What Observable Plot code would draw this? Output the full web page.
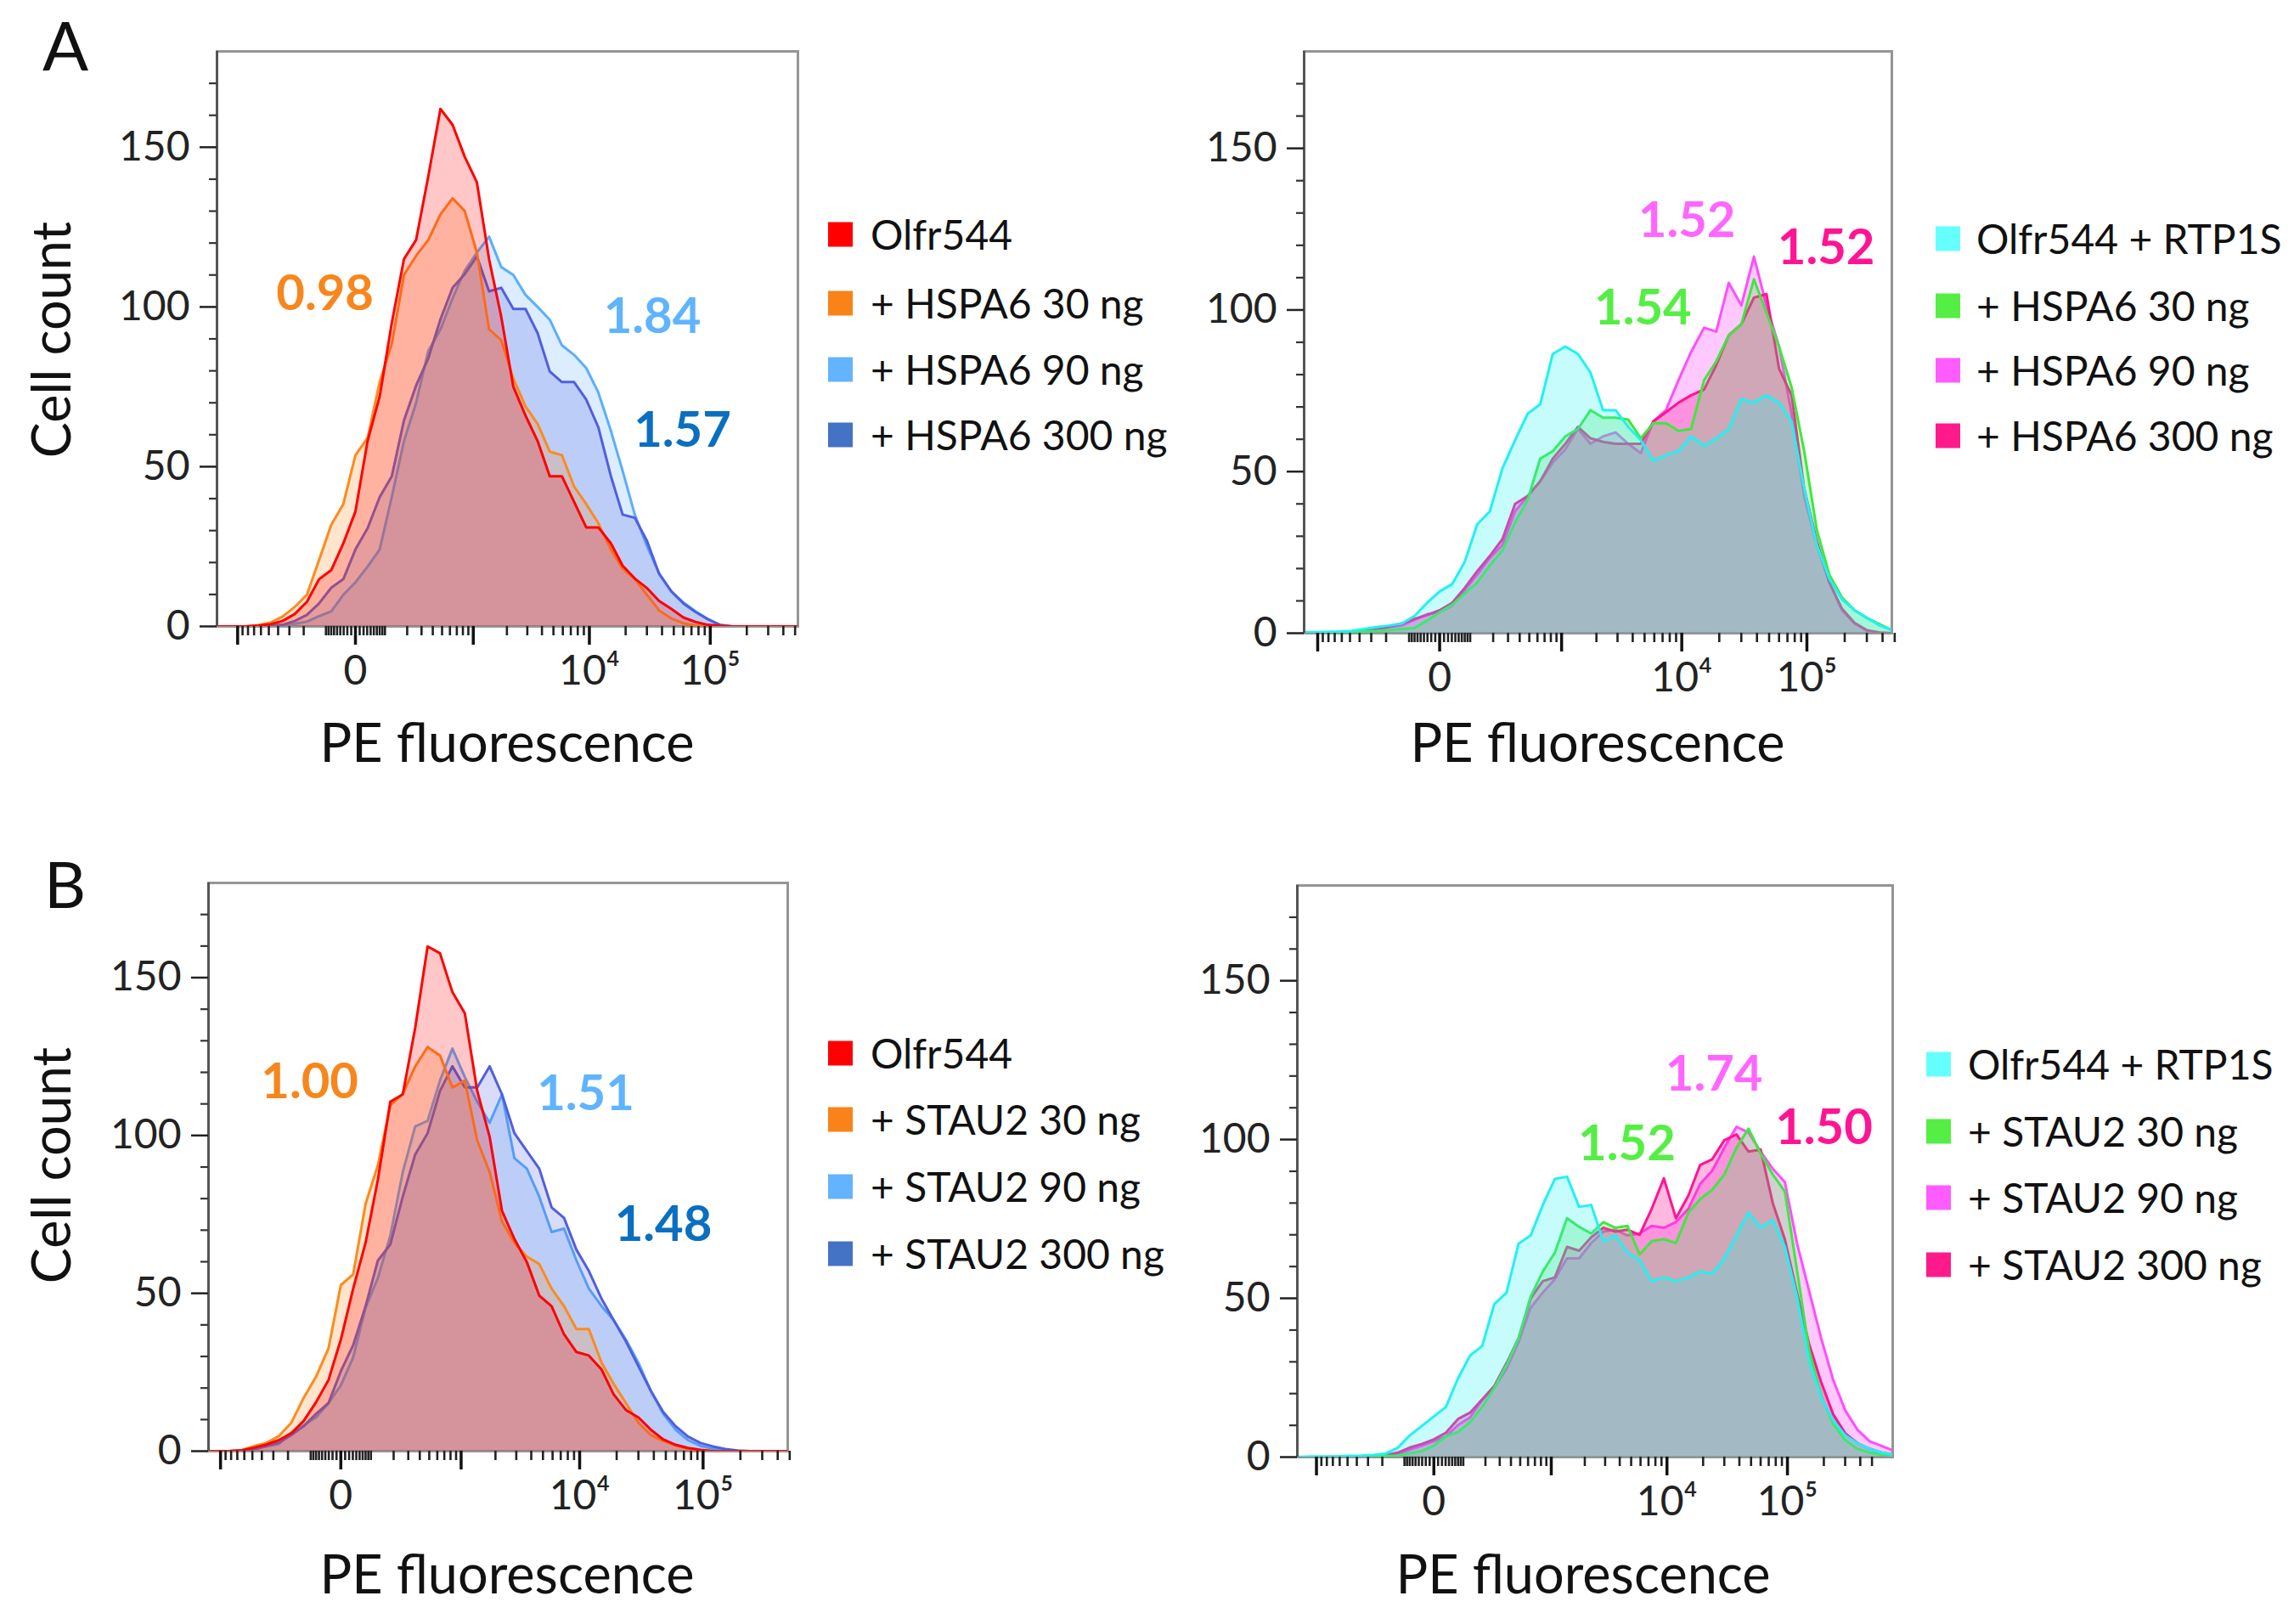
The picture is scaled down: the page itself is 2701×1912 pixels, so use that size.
<!DOCTYPE html>
<html>
<head>
<meta charset="utf-8">
<script src="https://cdn.jsdelivr.net/npm/d3@7"></script>
<script src="https://cdn.jsdelivr.net/npm/@observablehq/plot@0.6"></script>
<style>
  html, body { margin: 0; padding: 0; background: #ffffff; }
  #fig { position: relative; width: 2701px; height: 1912px; background: #ffffff; overflow: hidden; font-family: Lato, "Open Sans", sans-serif; }
  #fig svg { position: absolute; }
</style>
</head>
<body>
<div id="fig"></div>
<script>
// ---------- DATA ----------
// histogram bin positions (PE fluorescence, biexponential-like axis)
const xBins = [-1782,-1391,-1080,-833,-637,-481,-358,-259,-181,-119,-70,-31,0,31,70,119,181,259,358,481,637,833,1080,1391,1782,2274,2894,3675,4657,5894,7452,9412,11880,15107,18899,23823,30023,37827,47653,60023,75595,95200,119880,150948,190073,239316,301308,379356,477612,601308,757031];

// Panel A, left (cell counts per bin)
const A_olfr544   = [0,0,0,0, 0.3,0.7,1.7,3.9,7.7,14.8,17.6,26, 36,58,72,95,115,121,141,162,157,147, 139,115,97,75,66,58,47,47,39,31, 31,26,19,15,12,8,5.5,2.8,1.4,0.5, 0.2,0,0,0,0,0,0,0,0];
const A_hspa6_30  = [0,0,0,0, 0.4,1.2,3.1,6.1,9.9,20.8,31.8,38.3, 53.6,59,76.5,88.5,110,116,121,129,134,130, 117,93,89.6,77.6,68.9,63.4,54.7,53.6,43.8,38.3, 32.3,24.1,18.1,14.8,9.9,5,2.5,1,0.3,0, 0,0,0,0,0,0,0,0,0];
const A_hspa6_90  = [0,0,0,0, 0,0.1,0.3,0.8,1.5,3.2,4.7,9.9, 13.8,18.7,24.1,40.5,58,70,86.3,92.9,102.7,111.4, 117,122,112.5,110,103.8,100,96,88,85,80.9, 73.2,61.2,48.7,35,25.2,16.5,11,7.5,4.7,2.3, 0.5,0,0,0,0,0,0,0,0];
const A_hspa6_300 = [0,0,0,0, 0.1,0.3,0.5,1.7,3.6,7.2,12.1,14.8, 24.1,30.7,40.5,47,64.5,75.4,84,96.1,106,110.3, 115.8,104.9,106,99.4,99.4,91.8,79.8,76.5,76.5,71, 62.3,47,35,34,26.8,16.5,11,7.2,4.5,2.3, 0.5,0,0,0,0,0,0,0,0];

// Panel A, right
const A_rtp1s        = [0.2,0.3,0.3,0.4, 0.5,0.7,1.3,1.9,2.4,3,5.3,9.4, 12.9,15.2,22.1,33.7,37.7,51,59.7,67.9,70.8,86.4, 88.7,86.4,80.6,69,69,63.8,59.7,53.4,55.1,56.3, 60.9,58,60.3,63.2,72.5,71.3,73.6,71.3,65.5,44.7, 27.3,16.9,10.5,7.1,4.7,2.4,0.9,0.3,0.1];
const A_r_hspa6_30   = [0,0,0,0, 0.1,0.2,0.5,0.7,1,1.3,1.6,3.9, 6.5,8.8,12.3,15.7,21,25.6,34.3,41.2,54,56.3, 60.9,63.2,69,66.7,66.7,66.1,60.3,65,65,62.6, 63.2,78.3,84.1,92.2,95.6,109.5,99.1,88.7,76,56.3, 32,18.1,11.1,7.1,4.7,2.8,0.9,0.3,0.1];
const A_r_hspa6_90   = [0,0,0,0, 0.1,0.3,0.7,1,1.9,2.4,4.2,5.9, 6.5,8.5,13.4,18.1,23.3,27.3,37.7,42.4,47,52.8, 56.9,63.2,58.6,60.9,62.1,58.6,55.7,65.5,69,78.3, 87,94.5,93.3,108.4,101.4,116.5,101.4,88.7,67.9,42.4, 27.3,15.7,7.1,3,0.7,0.1,0,0,0];
const A_r_hspa6_300  = [0,0,0,0, 0.1,0.3,0.8,1.2,2.1,3,4.4,5.6, 7.1,9.4,14,19.2,23.9,29.1,40,42.4,47,54, 58.6,63.8,60.3,59.2,58.6,58.6,58.6,65.5,68.4,71.3, 73.6,75.4,82.9,92.2,95.6,103.8,104.9,81.8,73.6,44.7, 28.5,15.7,7.6,3.2,0.9,0.2,0,0,0];

// Panel B, left
const B_olfr544   = [0,0,0,0, 0.3,1.1,2.1,3.5,5.7,9.6,15.5,22.5, 35.3,51.5,66,86.1,110.7,113,134.2,159.9,157.7,145.4, 138.7,114.1,99.6,76.1,67.2,59.9,49.3,45.9,37,31.4, 30.3,25.8,18,13,10.7,6.8,3.7,2,1,0.4, 0,0,0,0,0,0,0,0,0];
const B_stau2_30  = [0,0,0,0, 0.3,1.6,2.6,4.8,9,16.9,23.6,32.5, 52.6,56,78.3,90.6,109.6,113.2,121.9,128,125.3,115.2, 117.4,98.4,88.4,72.7,66,61.6,59.3,51.5,45.9,38.7, 38.7,28,21.3,15.2,9,5.1,3.2,1.8,0.8,0.2, 0,0,0,0,0,0,0,0,0];
const B_stau2_90  = [0,0,0,0, 0.2,0.6,1.5,2.3,5.7,8.2,10.7,15.2, 20.8,29.7,45.4,54.9,68.3,88.4,102.9,104.6,117.4,127.5, 118.5,110.7,104,113,92.8,89.5,80.6,69.4,70.5,60.4, 51.5,45.9,41.5,35.3,28,19.1,11.8,6.8,3.5,1.7, 0.8,0.4,0.1,0,0,0,0,0,0];
const B_stau2_300 = [0,0,0,0, 0.2,0.6,1.7,2.6,5.1,7.9,11.8,15.2, 25.3,33.6,45.9,60.4,65.5,80.6,94,100.7,114.1,121.9, 115.2,115.2,121.9,113,100.7,95.1,89.5,77.2,73.9,63.8, 57.1,48.2,41.5,34.7,26.9,19.1,12.4,7.9,4.6,2.6, 1.5,0.7,0.2,0,0,0,0,0,0];

// Panel B, right
const B_rtp1s        = [0.1,0.1,0.2,0.2, 0.2,0.4,0.5,0.7,1.1,2.9,6.8,9.8, 12.8,15.8,24.8,32,35,48.2,51.8,67.2,69.8,79.4, 87.6,88.3,78.8,79.4,68,69.8,64.4,62,55.4,56.6, 55.4,56.6,58.4,57.8,62.6,69.8,77,72.2,74.6,66.2, 50.6,30.2,18.8,11.6,6.8,4.4,2.6,1.4,0.8];
const B_r_stau2_30   = [0,0,0,0, 0.1,0.1,0.2,0.2,0.4,0.5,1.2,1.9, 3.6,6.5,7.9,11,15.8,21.8,29,37.4,50.6,58.4, 64.4,75.2,72.5,70.4,74,72.2,72.8,63.8,68,68.6, 67.4,77,81.2,84.2,89,97.4,103.4,95.6,89,83.6, 59,33.8,19.4,10.4,5.3,2.6,1.4,0.8,0.5];
const B_r_stau2_90   = [0,0,0,0, 0.1,0.2,0.3,0.4,0.5,1,2.3,3.6, 5,6.5,10.1,12.5,18,21.8,27.8,36.2,47,51.8, 56,62.6,62.6,67.4,71,71.6,69.8,70.4,72.8,72.2, 74,78.2,86,90.2,97.4,104,102.2,96.2,90.8,86.6, 67.4,52.4,37.4,24.2,14.6,8.6,5,3.5,2];
const B_r_stau2_300  = [0,0,0,0, 0.1,0.2,0.3,0.5,0.6,1.4,3,4.1, 5.6,7.7,12,14,18.2,22.4,29.6,37.4,50,55.4, 56.6,66.2,65,69.2,72.2,71,71.6,70,78.2,87.8, 75.2,82.4,92,93.8,99.8,101.6,96.2,96.8,80,68.6, 51.8,35.6,23.6,13.4,7.4,4.4,2.6,1.4,0.8];

// series names (legend entries)
const namesAL = ["Olfr544", "+ HSPA6 30 ng", "+ HSPA6 90 ng", "+ HSPA6 300 ng"];
const namesAR = ["Olfr544 + RTP1S", "+ HSPA6 30 ng", "+ HSPA6 90 ng", "+ HSPA6 300 ng"];
const namesBL = ["Olfr544", "+ STAU2 30 ng", "+ STAU2 90 ng", "+ STAU2 300 ng"];
const namesBR = ["Olfr544 + RTP1S", "+ STAU2 30 ng", "+ STAU2 90 ng", "+ STAU2 300 ng"];

// ratio annotations: label, x (fluorescence), y (cell count)
const annAL = [{label: "0.98", x: -94, y: 103.9}, {label: "1.84", x: 33240, y: 96.7}, {label: "1.57", x: 58920, y: 61.2}];
const annAR = [{label: "1.52", x: 10980, y: 127.5}, {label: "1.52", x: 142200, y: 119.1}, {label: "1.54", x: 4848, y: 100.5}];
const annBL = [{label: "1.00", x: -94, y: 116.8}, {label: "1.51", x: 11180, y: 112.9}, {label: "1.48", x: 47760, y: 71.6}];
const annBR = [{label: "1.74", x: 24660, y: 120.3}, {label: "1.50", x: 200200, y: 103.5}, {label: "1.52", x: 4594, y: 98.4}];

// ticks
const yMajorTicks = [0, 50, 100, 150];
const yMinorTicks = [10, 20, 30, 40, 60, 70, 80, 90, 110, 120, 130, 140, 160, 170];
const xMajorTicks = [-1000, 0, 1000, 10000, 100000];
const xMinorTicks = [-900,-800,-700,-600,-500,-400,-300,-200,-90,-80,-70,-60,-50,-40,-30,-20,-10,10,20,30,40,50,60,70,80,90,200,300,400,500,600,700,800,900,2000,3000,4000,5000,6000,7000,8000,9000,20000,30000,40000,50000,60000,70000,80000,90000,200000,300000,400000,500000];
const xLabelTicks = [0, 10000, 100000];
const xLabelText = ["0", "10\u2074", "10\u2075"];
const yAxisTitle = "Cell count";
const xAxisTitle = "PE fluorescence";

// ---------- STYLE ----------
const leftLine  = ["#ff0000", "#ff8a1c", "#5aaeff", "#4f5fe0"];
const rightLine = ["#1ff2f2", "#3fe83f", "#ff4dff", "#ff1493"];
const leftAlpha  = [0.22, 0.22, 0.22, 0.22];
const rightAlpha = [0.25, 0.25, 0.3, 0.3];
const leftSwatch  = ["#ff0000", "#f98319", "#63b3ff", "#4472c4"];
const rightSwatch = ["#66ffff", "#55ee44", "#ff5cff", "#ff1a8c"];
const leftAnnColors  = ["#f7861c", "#5fb4ff", "#0a6fc0"];
const rightAnnColors = ["#ff66ff", "#ff1493", "#55ee44"];

const xLabelMap = new Map(xLabelTicks.map((t, i) => [t, xLabelText[i]]));
const fig = document.getElementById("fig");
const FONT = "Lato, 'Open Sans', sans-serif";

const panels = [
  {left: 0, top: 0, width: 960, height: 830, m: [60, 21, 93, 255], xDomain: [-1536, 527500],
   names: namesAL, values: [A_olfr544, A_hspa6_30, A_hspa6_90, A_hspa6_300], order: [2, 3, 1, 0],
   colors: leftLine, alpha: leftAlpha, ann: annAL, annColors: leftAnnColors},
  {left: 1380, top: 0, width: 860, height: 830, m: [60, 13, 85, 155], xDomain: [-1316, 474400],
   names: namesAR, values: [A_rtp1s, A_r_hspa6_30, A_r_hspa6_90, A_r_hspa6_300], order: [2, 3, 1, 0],
   colors: rightLine, alpha: rightAlpha, ann: annAR, annColors: rightAnnColors},
  {left: 0, top: 980, width: 960, height: 830, m: [59, 33, 102, 245], xDomain: [-1280, 482000],
   names: namesBL, values: [B_olfr544, B_stau2_30, B_stau2_90, B_stau2_300], order: [2, 3, 1, 0],
   colors: leftLine, alpha: leftAlpha, ann: annBL, annColors: leftAnnColors},
  {left: 1380, top: 980, width: 860, height: 830, m: [62, 12, 95, 147], xDomain: [-1492, 741500],
   names: namesBR, values: [B_rtp1s, B_r_stau2_30, B_r_stau2_90, B_r_stau2_300], order: [2, 3, 1, 0],
   colors: rightLine, alpha: rightAlpha, ann: annBR, annColors: rightAnnColors}
];

for (const p of panels) {
  const rows = p.names.map((name, i) => p.values[i].map((c, j) => ({series: name, x: xBins[j], count: c})));
  const marks = [Plot.frame({stroke: "#959595", strokeWidth: 3})];
  for (const i of p.order) {
    marks.push(Plot.areaY(rows[i], {x: "x", y: "count", fill: "series", fillOpacity: p.alpha[i], clip: true}));
    marks.push(Plot.lineY(rows[i], {x: "x", y: "count", stroke: "series", strokeWidth: 3, clip: true}));
  }
  marks.push(Plot.ruleX([p.xDomain[0]], {stroke: "#555555", strokeWidth: 3}));
  marks.push(Plot.axisY({ticks: yMajorTicks, tickSize: 20, tickPadding: 12, fontSize: 48, strokeWidth: 2.5, color: "#222", label: null}));
  marks.push(Plot.axisY({ticks: yMinorTicks, tickSize: 9, strokeWidth: 2.2, color: "#333", tickFormat: () => "", label: null}));
  marks.push(Plot.axisX({ticks: xMajorTicks, tickSize: 22, strokeWidth: 3.5, color: "#111", tickFormat: () => "", label: null}));
  marks.push(Plot.axisX({ticks: xMinorTicks, tickSize: 11, strokeWidth: 2.6, color: "#222", tickFormat: () => "", label: null}));
  marks.push(Plot.axisX({ticks: xLabelTicks, tickSize: 0, tickPadding: 34, fontSize: 48, color: "#222", tickFormat: d => xLabelMap.get(d), label: null}));
  p.ann.forEach((a, i) => {
    marks.push(Plot.text([a], {x: "x", y: "y", text: "label", fill: p.annColors[i], fontSize: 58, fontWeight: "bold"}));
  });
  const chart = Plot.plot({
    width: p.width, height: p.height,
    marginTop: p.m[0], marginRight: p.m[1], marginBottom: p.m[2], marginLeft: p.m[3],
    x: {type: "symlog", constant: 120, domain: p.xDomain},
    y: {domain: [0, 180]},
    color: {domain: p.names, range: p.colors},
    style: {fontFamily: FONT, background: "transparent", overflow: "visible"},
    marks
  });
  chart.style.left = p.left + "px";
  chart.style.top = p.top + "px";
  fig.append(chart);
}

// ---------- overlay: panel letters, axis titles, legends ----------
const ov = d3.select(fig).append("svg")
  .attr("width", 2701).attr("height", 1912)
  .style("left", "0px").style("top", "0px")
  .style("font-family", FONT).style("pointer-events", "none");

ov.append("text").attr("x", 50).attr("y", 83).attr("font-size", 80).attr("fill", "#111").text("A");
ov.append("text").attr("x", 52).attr("y", 1069).attr("font-size", 76).attr("fill", "#111").text("B");

for (const [cx, cy] of [[83, 400], [83, 1372]]) {
  ov.append("text").attr("transform", `translate(${cx},${cy}) rotate(-90)`)
    .attr("text-anchor", "middle").attr("font-size", 63).attr("fill", "#111").text(yAxisTitle);
}
for (const [cx, cy] of [[597, 897], [1881, 897], [597, 1876], [1864, 1876]]) {
  ov.append("text").attr("x", cx).attr("y", cy).attr("text-anchor", "middle")
    .attr("font-size", 63).attr("fill", "#111").text(xAxisTitle);
}

const legends = [
  {sx: 975, tx: 1025, ys: [276, 357, 435, 512], names: namesAL, colors: leftSwatch},
  {sx: 2279, tx: 2327, ys: [281, 360, 436, 513], names: namesAR, colors: rightSwatch},
  {sx: 975, tx: 1025, ys: [1240, 1318, 1397, 1476], names: namesBL, colors: leftSwatch},
  {sx: 2268, tx: 2317, ys: [1253, 1332, 1410, 1489], names: namesBR, colors: rightSwatch}
];
for (const L of legends) {
  L.names.forEach((n, i) => {
    ov.append("rect").attr("x", L.sx).attr("y", L.ys[i] - 14.5).attr("width", 29).attr("height", 29).attr("fill", L.colors[i]);
    ov.append("text").attr("x", L.tx).attr("y", L.ys[i] + 17.5).attr("font-size", 48).attr("fill", "#111").text(n);
  });
}
</script>
</body>
</html>
